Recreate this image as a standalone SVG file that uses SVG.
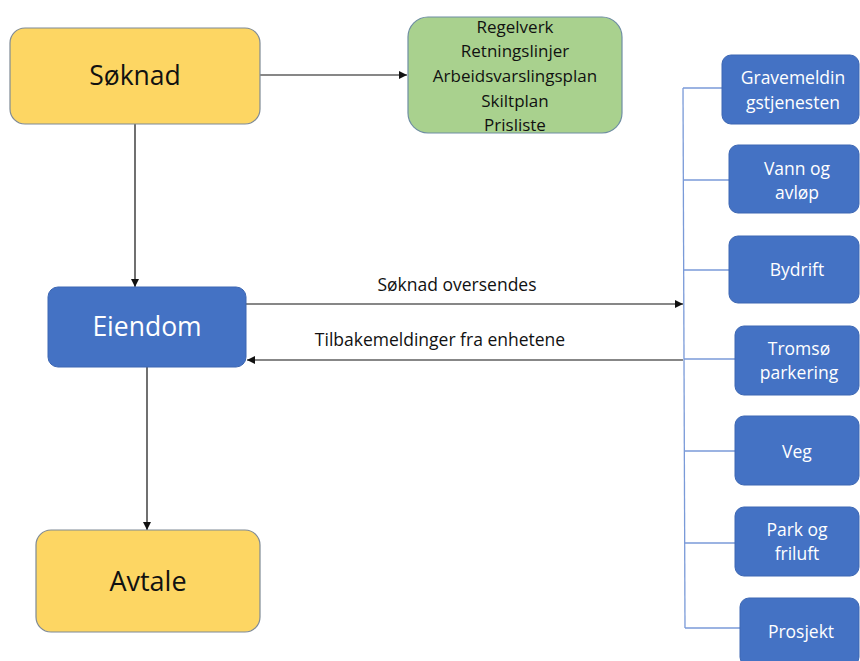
<svg xmlns="http://www.w3.org/2000/svg" width="860" height="661" viewBox="0 0 860 661">
<style>
text{font-family:"Open Sans","Liberation Sans",sans-serif;text-anchor:middle}
.y{fill:#FDD663;stroke:#7f8a95;stroke-width:1.2}
.g{fill:#A9D18E;stroke:#6f8ea3;stroke-width:1.2}
.b{fill:#4472C4;stroke:#3d67b3;stroke-width:1}
.wt{fill:#fff;font-size:17.5px}
.bt{fill:#111;font-size:17px}
.lt{fill:#111;font-size:17.5px}
.c{stroke:#111;stroke-width:1.2;fill:none}
.br{stroke:#7a9ad8;stroke-width:1.3;fill:none}
</style>
<defs>
<marker id="ah" viewBox="0 0 10 10" refX="10" refY="5" markerWidth="8" markerHeight="8" markerUnits="userSpaceOnUse" orient="auto">
<path d="M0,0 L10,5 L0,10 z" fill="#111"/>
</marker>
</defs>
<rect width="860" height="661" fill="#fff"/>
<g id="connectors">
<line class="c" x1="260" y1="75" x2="407" y2="75" marker-end="url(#ah)"/>
<line class="c" x1="135" y1="124" x2="135" y2="287" marker-end="url(#ah)"/>
<line class="c" x1="147" y1="367" x2="147" y2="530" marker-end="url(#ah)"/>
<line class="c" x1="246" y1="304" x2="683" y2="304" marker-end="url(#ah)"/>
<line class="c" x1="683" y1="360" x2="247" y2="360" marker-end="url(#ah)"/>
<text class="lt" x="457" y="291">Søknad oversendes</text>
<text class="lt" x="440" y="346">Tilbakemeldinger fra enhetene</text>
<path class="br" d="M683,88 L685,628"/>
<line class="br" x1="683" y1="88" x2="722" y2="88"/>
<line class="br" x1="684" y1="180" x2="729" y2="180"/>
<line class="br" x1="684" y1="270" x2="729" y2="270"/>
<line class="br" x1="684" y1="359" x2="735" y2="359"/>
<line class="br" x1="684" y1="451" x2="735" y2="451"/>
<line class="br" x1="685" y1="543" x2="735" y2="543"/>
<line class="br" x1="685" y1="628" x2="740" y2="628"/>
</g>
<g id="soknad">
<rect class="y" x="10" y="28" width="250" height="96" rx="15"/>
<text x="135" y="85" style="font-size:26.5px;fill:#111">Søknad</text>
</g>
<g id="regelverk">
<rect class="g" x="408" y="17" width="214" height="116" rx="20"/>
<text class="bt" x="515" y="33">Regelverk</text>
<text class="bt" x="515" y="57">Retningslinjer</text>
<text class="bt" x="515" y="82">Arbeidsvarslingsplan</text>
<text class="bt" x="515" y="107">Skiltplan</text>
<text class="bt" x="515" y="131">Prisliste</text>
</g>
<g id="eiendom">
<rect class="b" x="48" y="287" width="198" height="80" rx="10"/>
<text x="147" y="336" style="font-size:26.5px;fill:#fff">Eiendom</text>
</g>
<g id="avtale">
<rect class="y" x="36" y="530" width="224" height="102" rx="15"/>
<text x="148" y="591" style="font-size:27px;fill:#111">Avtale</text>
</g>
<g id="gravemelding">
<rect class="b" x="722" y="55" width="137" height="69" rx="9"/>
<text class="wt" x="793" y="84">Gravemeldin</text>
<text class="wt" x="793" y="109">gstjenesten</text>
</g>
<g id="vann">
<rect class="b" x="729" y="145" width="130" height="68" rx="9"/>
<text class="wt" x="797" y="175">Vann og</text>
<text class="wt" x="797" y="199">avløp</text>
</g>
<g id="bydrift">
<rect class="b" x="729" y="236" width="130" height="67" rx="9"/>
<text class="wt" x="797" y="276">Bydrift</text>
</g>
<g id="tromso">
<rect class="b" x="735" y="326" width="124" height="69" rx="9"/>
<text class="wt" x="799" y="355">Tromsø</text>
<text class="wt" x="799" y="379">parkering</text>
</g>
<g id="veg">
<rect class="b" x="735" y="416" width="124" height="69" rx="9"/>
<text class="wt" x="797" y="458">Veg</text>
</g>
<g id="park">
<rect class="b" x="735" y="507" width="124" height="69" rx="9"/>
<text class="wt" x="797" y="536">Park og</text>
<text class="wt" x="797" y="560">friluft</text>
</g>
<g id="prosjekt">
<rect class="b" x="740" y="598" width="119" height="68" rx="9"/>
<text class="wt" x="801" y="638">Prosjekt</text>
</g>
</svg>
